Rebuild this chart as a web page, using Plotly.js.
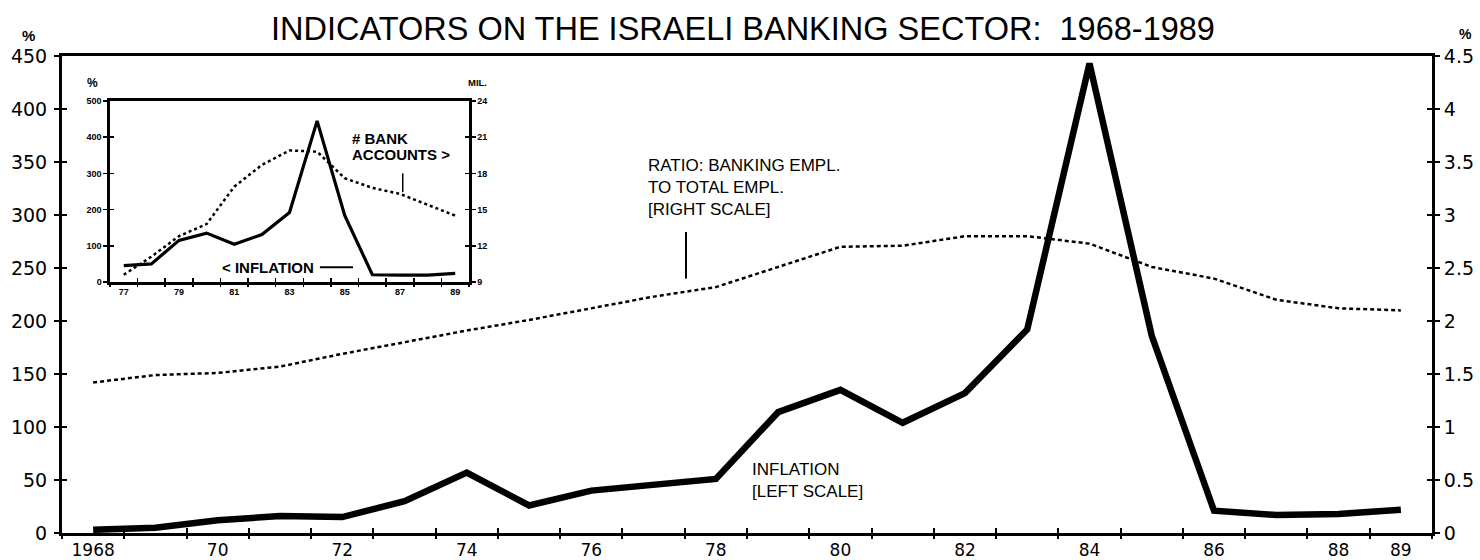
<!DOCTYPE html>
<html>
<head>
<meta charset="utf-8">
<script src="https://cdn.plot.ly/plotly-3.0.1.min.js"></script>
<style>
  html, body { margin: 0; padding: 0; background: #fff; }
  #chart { width: 1480px; height: 560px; }
</style>
</head>
<body>
<div id="chart"></div>
<script>
// ---- main chart data ----
const years = [1968,1969,1970,1971,1972,1973,1974,1975,1976,1977,1978,1979,1980,1981,1982,1983,1984,1985,1986,1987,1988,1989];
const inflation = [3,5,12,16,15,30,57,26,40,45,51,114,135,104,132,192,443,186,21,17,18,22];
const ratioBankEmpl = [1.42,1.49,1.51,1.57,1.69,1.80,1.91,2.01,2.12,2.23,2.32,2.51,2.70,2.71,2.80,2.80,2.73,2.51,2.40,2.20,2.12,2.10];
const xTickYears = [1968,1970,1972,1974,1976,1978,1980,1982,1984,1986,1988,1989];
const xTickText = ['1968','70','72','74','76','78','80','82','84','86','88','89'];

// ---- inset data ----
const insetYears = [77,78,79,80,81,82,83,84,85,86,87,88,89];
const insetInflation = [45,50,115,135,104,131,192,445,184,20,19,19,24];
const insetAccounts = [9.6,11.1,12.8,13.8,16.9,18.7,19.9,19.8,17.6,16.8,16.3,15.4,14.5];
const insetTickYears = [77,79,81,83,85,87,89];
const insetTickText = ['77','79','81','83','85','87','89'];

const BLK = '#000';
const tickFont = {family: 'DejaVu Sans', size: 19, color: BLK};
const xTickFont = {family: 'DejaVu Sans', size: 17, color: BLK};
const insetTickFont = {family: 'Liberation Sans', size: 9, color: BLK, weight: 'bold'};
const annFont = {family: 'Liberation Sans', size: 17, color: BLK};
const insetAnnFont = {family: 'Liberation Sans', size: 15, color: BLK, weight: 'bold'};

const traces = [
  {x: years, y: inflation, xaxis: 'x', yaxis: 'y', mode: 'lines',
   line: {color: BLK, width: 6.5}},
  {x: years, y: ratioBankEmpl, xaxis: 'x', yaxis: 'y2', mode: 'lines',
   line: {color: BLK, width: 2.5, dash: '4px,3px'}},
  {x: insetYears, y: insetInflation, xaxis: 'x3', yaxis: 'y5', mode: 'lines',
   line: {color: BLK, width: 3.2}},
  {x: insetYears, y: insetAccounts, xaxis: 'x3', yaxis: 'y6', mode: 'lines',
   line: {color: BLK, width: 2.5, dash: '3px,3px'}},
  // empty traces that only register the tick-only overlay axes (crossing ticks)
  {x: [], y: [], xaxis: 'x2', yaxis: 'y3', mode: 'lines'},
  {x: [], y: [], xaxis: 'x4', yaxis: 'y4', mode: 'lines'},
  {x: [], y: [], xaxis: 'x5', yaxis: 'y7', mode: 'lines'},
  {x: [], y: [], xaxis: 'x6', yaxis: 'y8', mode: 'lines'}
];

const noGrid = {showgrid: false, zeroline: false};
const mainX = [1967.5, 1989.5];
const insetX = [76.5, 89.5];

const layout = {
  width: 1480, height: 560, autosize: false,
  margin: {l: 62, r: 48, t: 56, b: 27, pad: 0},
  paper_bgcolor: '#fff', plot_bgcolor: 'rgba(0,0,0,0)',
  showlegend: false, hovermode: false,
  title: {
    text: 'INDICATORS ON THE ISRAELI BANKING SECTOR:&nbsp; 1968-1989',
    font: {family: 'Liberation Sans', size: 32.5, color: BLK},
    xref: 'container', x: 0.502, xanchor: 'center',
    yref: 'container', y: 0.949, yanchor: 'middle'
  },
  // main x axis (labels + frame)
  xaxis: Object.assign({domain: [0, 1], anchor: 'y', range: mainX, tickmode: 'array',
    tickvals: xTickYears, ticktext: xTickText, ticks: '', showline: true, linewidth: 3,
    linecolor: BLK, mirror: true, tickfont: xTickFont, ticklabelstandoff: 0}, noGrid),
  xaxis2: Object.assign({overlaying: 'x', anchor: 'y3', range: mainX, tickmode: 'linear',
    tick0: 1967.5, dtick: 1, ticks: 'outside', ticklen: 5, tickwidth: 2, tickcolor: BLK,
    showticklabels: false, showline: false}, noGrid),
  xaxis4: Object.assign({overlaying: 'x', anchor: 'y4', range: mainX, tickmode: 'linear',
    tick0: 1967.5, dtick: 1, ticks: 'inside', ticklen: 5, tickwidth: 2, tickcolor: BLK,
    showticklabels: false, showline: false}, noGrid),
  yaxis: Object.assign({domain: [0, 1], anchor: 'x', range: [0, 450], tickmode: 'linear',
    tick0: 0, dtick: 50, ticks: 'outside', ticklen: 5, tickwidth: 2, tickcolor: BLK,
    showline: true, linewidth: 3, linecolor: BLK, tickfont: tickFont, ticklabelstandoff: 3}, noGrid),
  yaxis3: Object.assign({overlaying: 'y', side: 'left', anchor: 'x2', range: [0, 450],
    tickmode: 'linear', tick0: 0, dtick: 50, ticks: 'inside', ticklen: 5, tickwidth: 2,
    tickcolor: BLK, showticklabels: false, showline: false}, noGrid),
  yaxis2: Object.assign({overlaying: 'y', side: 'right', anchor: 'x', range: [0, 4.5],
    tickmode: 'linear', tick0: 0, dtick: 0.5, ticks: 'outside', ticklen: 5, tickwidth: 2,
    tickcolor: BLK, showline: true, linewidth: 3, linecolor: BLK, tickfont: tickFont,
    ticklabelstandoff: 0}, noGrid),
  yaxis4: Object.assign({overlaying: 'y', side: 'right', anchor: 'x4', range: [0, 4.5],
    tickmode: 'linear', tick0: 0, dtick: 0.5, ticks: 'inside', ticklen: 5, tickwidth: 2,
    tickcolor: BLK, showticklabels: false, showline: false}, noGrid),
  // inset axes
  xaxis3: Object.assign({domain: [0.035, 0.2971], anchor: 'y5', range: insetX, tickmode: 'array',
    tickvals: insetTickYears, ticktext: insetTickText, ticks: '', showline: true, linewidth: 2.5,
    linecolor: BLK, mirror: true, tickfont: insetTickFont, ticklabelstandoff: 0}, noGrid),
  xaxis5: Object.assign({overlaying: 'x3', anchor: 'y7', range: insetX, tickmode: 'linear',
    tick0: 76.5, dtick: 1, ticks: 'outside', ticklen: 4, tickwidth: 1.5, tickcolor: BLK,
    showticklabels: false, showline: false}, noGrid),
  xaxis6: Object.assign({overlaying: 'x3', anchor: 'y8', range: insetX, tickmode: 'linear',
    tick0: 76.5, dtick: 1, ticks: 'inside', ticklen: 4, tickwidth: 1.5, tickcolor: BLK,
    showticklabels: false, showline: false}, noGrid),
  yaxis5: Object.assign({domain: [0.5262, 0.9057], anchor: 'x3', range: [0, 500],
    tickmode: 'linear', tick0: 0, dtick: 100, ticks: 'outside', ticklen: 4, tickwidth: 1.5,
    tickcolor: BLK, showline: true, linewidth: 2.5, linecolor: BLK, tickfont: insetTickFont,
    ticklabelstandoff: 0}, noGrid),
  yaxis7: Object.assign({overlaying: 'y5', side: 'left', anchor: 'x5', range: [0, 500],
    tickmode: 'linear', tick0: 0, dtick: 100, ticks: 'inside', ticklen: 4, tickwidth: 1.5,
    tickcolor: BLK, showticklabels: false, showline: false}, noGrid),
  yaxis6: Object.assign({overlaying: 'y5', side: 'right', anchor: 'x3', range: [9, 24],
    tickmode: 'linear', tick0: 9, dtick: 3, ticks: 'outside', ticklen: 4, tickwidth: 1.5,
    tickcolor: BLK, showline: true, linewidth: 2.5, linecolor: BLK, tickfont: insetTickFont,
    ticklabelstandoff: 0}, noGrid),
  yaxis8: Object.assign({overlaying: 'y5', side: 'right', anchor: 'x6', range: [9, 24],
    tickmode: 'linear', tick0: 9, dtick: 3, ticks: 'inside', ticklen: 4, tickwidth: 1.5,
    tickcolor: BLK, showticklabels: false, showline: false}, noGrid),
  annotations: [
    {text: '%', xref: 'paper', yref: 'paper', x: -0.0248, y: 1.042, xanchor: 'center',
     yanchor: 'middle', showarrow: false, font: {family: 'Liberation Sans', size: 15, color: BLK, weight: 'bold'}},
    {text: '%', xref: 'paper', yref: 'paper', x: 1.0248, y: 1.046, xanchor: 'center',
     yanchor: 'middle', showarrow: false, font: {family: 'Liberation Sans', size: 14, color: BLK, weight: 'bold'}},
    {text: 'RATIO: BANKING EMPL.<br>TO TOTAL EMPL.<br>[RIGHT SCALE]', xref: 'x', yref: 'y2',
     x: 1976.88, y: 3.255, xanchor: 'left', yanchor: 'middle', align: 'left', showarrow: false,
     font: annFont},
    {text: 'INFLATION<br>[LEFT SCALE]', xref: 'x', yref: 'y', x: 1978.55, y: 50,
     xanchor: 'left', yanchor: 'middle', align: 'left', showarrow: false, font: annFont},
    // inset texts
    {text: '%', xref: 'paper', yref: 'paper', x: 0.0226, y: 0.9434, xanchor: 'center',
     yanchor: 'middle', showarrow: false, font: {family: 'Liberation Sans', size: 12, color: BLK, weight: 'bold'}},
    {text: 'MIL.', xref: 'paper', yref: 'paper', x: 0.3036, y: 0.9434, xanchor: 'center',
     yanchor: 'middle', showarrow: false, font: {family: 'Liberation Sans', size: 9.5, color: BLK, weight: 'bold'}},
    {text: '# BANK', xref: 'x3', yref: 'y5', x: 85.19, y: 396, xanchor: 'left',
     yanchor: 'middle', showarrow: false, font: insetAnnFont},
    {text: 'ACCOUNTS &gt;', xref: 'x3', yref: 'y5', x: 85.19, y: 351, xanchor: 'left',
     yanchor: 'middle', showarrow: false, font: insetAnnFont},
    {text: '&lt; INFLATION', xref: 'x3', yref: 'y5', x: 80.48, y: 41, xanchor: 'left',
     yanchor: 'middle', showarrow: false, font: insetAnnFont}
  ],
  shapes: [
    {type: 'line', xref: 'x', yref: 'y2', x0: 1977.52, x1: 1977.52, y0: 2.40, y1: 2.84,
     line: {color: BLK, width: 2}},
    {type: 'line', xref: 'x3', yref: 'y6', x0: 87.1, x1: 87.1, y0: 16.45, y1: 18.0,
     line: {color: BLK, width: 1.5}},
    {type: 'line', xref: 'x3', yref: 'y5', x0: 84.1, x1: 85.3, y0: 41, y1: 41,
     line: {color: BLK, width: 2}}
  ]
};

Plotly.newPlot('chart', traces, layout, {staticPlot: true, displayModeBar: false});
</script>
</body>
</html>
